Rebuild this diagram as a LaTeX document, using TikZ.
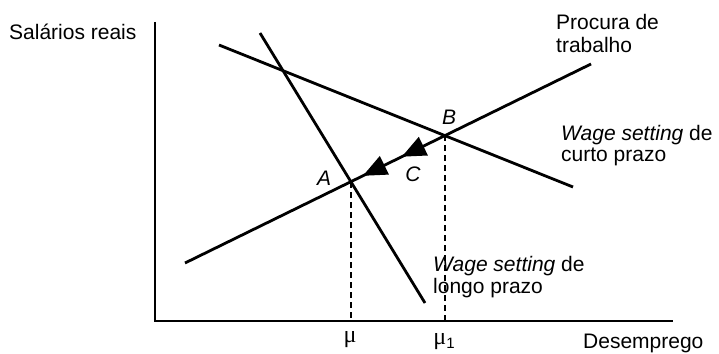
\documentclass[tikz,border=0pt]{standalone}
\usepackage{fontspec}
\setmainfont{Liberation Sans}
\newfontfamily\serifmu{Liberation Serif}
\usetikzlibrary{decorations.markings,arrows.meta}
\begin{document}
\begin{tikzpicture}[x=1pt,y=-1pt,
  lbl/.style={inner sep=0pt,font=\fontsize{21}{23}\selectfont,align=left},
  itl/.style={inner sep=0pt,font=\fontsize{21}{23}\selectfont\itshape},
  curve/.style={line width=2.8pt},
  axis/.style={line width=1.8pt},
  guide/.style={line width=1.3pt,dash pattern=on 6pt off 4pt},
  tri/.style={Triangle[length=24pt,width=20pt]}]
\useasboundingbox (0,0) rectangle (719,353);
% axes
\coordinate (O) at (155,321);
\coordinate (ytop) at (155,22);
\coordinate (xend) at (673,321);
\draw[axis] (ytop) -- (O) -- (xend);
% curves
\coordinate (L1) at (260,33);
\coordinate (L2) at (425,303);
\coordinate (S1) at (219,45);
\coordinate (S2) at (573,187);
\coordinate (P1) at (591,64);
\coordinate (P2) at (185,263);
\coordinate (A) at (351,182);
\coordinate (B) at (445,135);
\coordinate (Abase) at (351,321);
\coordinate (Bbase) at (445,321);
\draw[curve] (L1) -- (L2);
\draw[curve] (S1) -- (S2);
\draw[curve,postaction={decorate},decoration={markings,
  mark=at position 0.466 with {\arrow{Triangle[length=24pt,width=20pt]}},
  mark=at position 0.562 with {\arrow{Triangle[length=24pt,width=20pt]}}}] (P1) -- (P2);
\draw[guide] (A) -- (Abase);
\draw[guide] (B) -- (Bbase);
% labels
\node[lbl,anchor=west] (ylab) at (9,32) {Salários reais};
\node[lbl,anchor=west] (xlab) at (583,343) {Desemprego};
\node[lbl,anchor=west] (proc) at (556,22) {Procura de};
\node[lbl,anchor=west] (proc2) at (556,45) {trabalho};
\node[lbl,anchor=west] (curto) at (561,135) {\textit{Wage setting} de};
\node[lbl,anchor=west] (curto2) at (561,157) {curto prazo};
\node[lbl,anchor=west] (longo) at (433,266) {\textit{Wage setting} de};
\node[lbl,anchor=west] (longo2) at (433,288) {longo prazo};
\node[itl] (Alab) at (324,178) {A};
\node[itl] (Blab) at (449,117) {B};
\node[itl] (Clab) at (413,174) {C};
\node[lbl] (mu) at (350,340) {\fontsize{24}{26}\serifmu μ};
\node[lbl] (mu1) at (444,342) {{\fontsize{24}{26}\serifmu μ}\raisebox{-4pt}{\fontsize{15}{16}\selectfont 1}};
\end{tikzpicture}
\end{document}
